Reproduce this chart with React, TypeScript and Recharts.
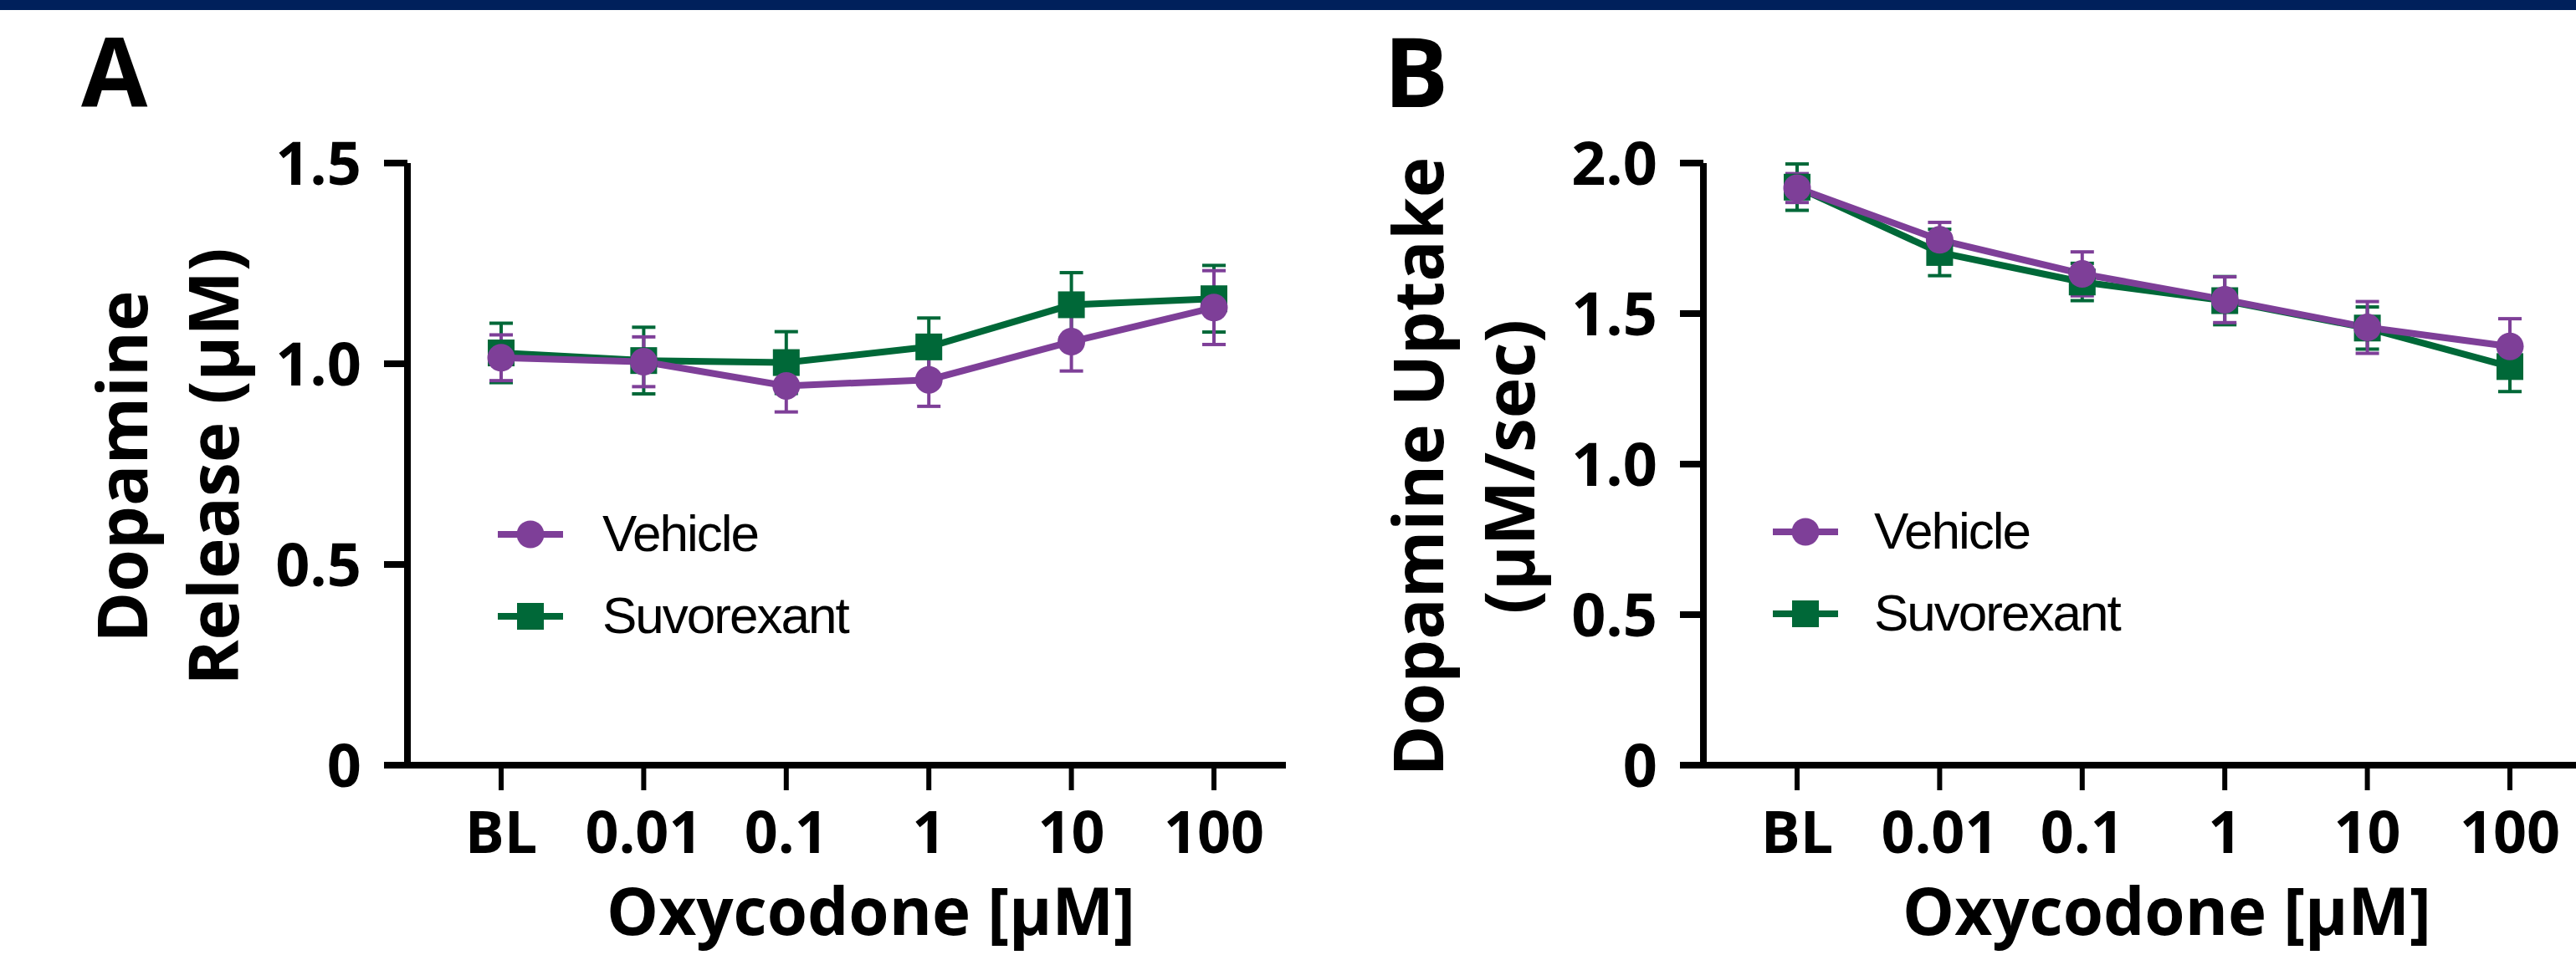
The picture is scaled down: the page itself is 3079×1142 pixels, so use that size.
import { ErrorBar, Legend, Line, LineChart, XAxis, YAxis } from "recharts";

const NAVY = "#00205b";
const PURPLE = "#7e3f98";
const GREEN = "#006838";
const BOLD_FONT = "'Open Sans', 'DejaVu Sans', sans-serif";
const LEGEND_FONT = "'Liberation Sans', Arial, sans-serif";

// oxycodone concentrations (µM), BL = baseline
const doses = ["BL", "0.01", "0.1", "1", "10", "100"];
const seriesNames = ["Vehicle", "Suvorexant"];

// panel A: dopamine release (µM), mean and SEM
const releaseVehicle = [1.015, 1.005, 0.945, 0.96, 1.055, 1.14];
const releaseVehicleSem = [0.057, 0.062, 0.065, 0.066, 0.073, 0.092];
const releaseSuvorexant = [1.027, 1.008, 1.003, 1.042, 1.147, 1.162];
const releaseSuvorexantSem = [0.074, 0.083, 0.077, 0.072, 0.08, 0.083];
const releaseTicks = [0, 0.5, 1, 1.5];

// panel B: dopamine uptake (µM/sec), mean and SEM
const uptakeVehicle = [1.917, 1.745, 1.632, 1.546, 1.454, 1.391];
const uptakeVehicleSem = [0.048, 0.058, 0.073, 0.076, 0.086, 0.092];
const uptakeSuvorexant = [1.92, 1.703, 1.605, 1.543, 1.452, 1.324];
const uptakeSuvorexantSem = [0.077, 0.077, 0.062, 0.08, 0.07, 0.083];
const uptakeTicks = [0, 0.5, 1, 1.5, 2];

function buildRows(veh: number[], vehSem: number[], suv: number[], suvSem: number[]) {
  return doses.map((dose, i) => ({
    dose,
    vehicle: veh[i],
    vehicleSem: vehSem[i],
    suvorexant: suv[i],
    suvorexantSem: suvSem[i],
  }));
}

const releaseRows = buildRows(releaseVehicle, releaseVehicleSem, releaseSuvorexant, releaseSuvorexantSem);
const uptakeRows = buildRows(uptakeVehicle, uptakeVehicleSem, uptakeSuvorexant, uptakeSuvorexantSem);

const fmtTick = (v: number) => (v === 0 ? "0" : v.toFixed(1));

const SquareDot = (props: any) => {
  const { cx, cy, index } = props;
  if (cx == null || cy == null) return null;
  return <rect key={`sq-${index}`} x={cx - 16} y={cy - 16} width={32} height={32} fill={GREEN} />;
};

function makeLegend(textX: number) {
  return (props: any) => {
    const payload = props.payload ?? [];
    const ordered = seriesNames
      .map((n) => payload.find((p: any) => p.value === n))
      .filter(Boolean);
    return (
      <svg width={460} height={170} style={{ display: "block" }}>
        {ordered.map((entry: any, i: number) => {
          const cy = 35 + i * 98;
          return (
            <g key={entry.value}>
              <line x1={0} x2={78} y1={cy} y2={cy} stroke={entry.color} strokeWidth={8} />
              {entry.value === "Vehicle" ? (
                <circle cx={39} cy={cy} r={16.5} fill={entry.color} />
              ) : (
                <rect x={23} y={cy - 16} width={32} height={32} fill={entry.color} />
              )}
              <text
                x={textX}
                y={cy + 20}
                fontFamily={LEGEND_FONT}
                fontSize={62}
                letterSpacing={-2}
                fill="#000"
              >
                {entry.value}
              </text>
            </g>
          );
        })}
      </svg>
    );
  };
}

type PanelProps = {
  left: number;
  width: number;
  axisWidth: number;
  rightMargin: number;
  padLeft: number;
  padRight: number;
  data: ReturnType<typeof buildRows>;
  ticks: number[];
  yLines: string[];
  legendLeft: number;
  legendTop: number;
  legendTextX: number;
};

function Panel(p: PanelProps) {
  const yTickStyle = { fill: "#000", fontSize: 72, fontFamily: BOLD_FONT, fontWeight: 700 };
  const xTickStyle = { fill: "#000", fontSize: 70, fontFamily: BOLD_FONT, fontWeight: 700 };

  const yTitle = (props: any) => {
    const vb = props.viewBox ?? { x: 0, y: 195, width: p.axisWidth, height: 720 };
    const bx = vb.x + vb.width - 311;
    const cy = vb.y + vb.height / 2 + 3;
    return (
      <text
        x={bx}
        y={cy}
        transform={`rotate(-90, ${bx}, ${cy})`}
        textAnchor="middle"
        fontFamily={BOLD_FONT}
        fontWeight={700}
        fontSize={82}
        fill="#000"
      >
        {p.yLines.map((line, i) => (
          <tspan key={line} x={bx} dy={i === 0 ? 0 : 109}>
            {line}
          </tspan>
        ))}
      </text>
    );
  };

  const xTitle = (props: any) => {
    const vb = props.viewBox ?? { x: p.axisWidth, y: 915, width: 1050, height: 227 };
    const cx = vb.x + p.padLeft + (vb.width - p.padLeft - p.padRight) / 2 + 16;
    return (
      <text
        x={cx}
        y={vb.y + 203}
        textAnchor="middle"
        fontFamily={BOLD_FONT}
        fontWeight={700}
        fontSize={78}
        fill="#000"
      >
        Oxycodone [µM]
      </text>
    );
  };

  return (
    <div style={{ position: "absolute", left: p.left, top: 0, width: p.width, height: 1142 }}>
      <LineChart
        width={p.width}
        height={1142}
        data={p.data}
        margin={{ top: 195, right: p.rightMargin, bottom: 0, left: 0 }}
      >
        <XAxis
          dataKey="dose"
          height={227}
          interval={0}
          padding={{ left: p.padLeft, right: p.padRight }}
          tickSize={30}
          tickMargin={25}
          stroke="#000"
          axisLine={{ stroke: "#000", strokeWidth: 8 }}
          tickLine={{ stroke: "#000", strokeWidth: 6 }}
          tick={xTickStyle}
          label={{ content: xTitle }}
        />
        <YAxis
          width={p.axisWidth}
          domain={[p.ticks[0], p.ticks[p.ticks.length - 1]]}
          ticks={p.ticks}
          tickFormatter={fmtTick}
          tickSize={28}
          tickMargin={27}
          stroke="#000"
          axisLine={{ stroke: "#000", strokeWidth: 8 }}
          tickLine={{ stroke: "#000", strokeWidth: 8 }}
          tick={yTickStyle}
          label={{ content: yTitle }}
        />
        <Legend
          layout="vertical"
          align="center"
          verticalAlign="middle"
          content={makeLegend(p.legendTextX)}
          wrapperStyle={{ position: "absolute", left: p.legendLeft, top: p.legendTop, width: 460, height: 170 }}
        />
        <Line
          name="Suvorexant"
          dataKey="suvorexant"
          stroke={GREEN}
          strokeWidth={8}
          dot={SquareDot}
          activeDot={false}
          isAnimationActive={false}
        >
          <ErrorBar dataKey="suvorexantSem" width={14} strokeWidth={4} stroke={GREEN} direction="y" />
        </Line>
        <Line
          name="Vehicle"
          dataKey="vehicle"
          stroke={PURPLE}
          strokeWidth={8}
          dot={{ r: 16.5, fill: PURPLE, stroke: "none" }}
          activeDot={false}
          isAnimationActive={false}
        >
          <ErrorBar dataKey="vehicleSem" width={14} strokeWidth={4} stroke={PURPLE} direction="y" />
        </Line>
      </LineChart>
    </div>
  );
}

export default function App() {
  return (
    <div
      style={{
        position: "absolute",
        left: 0,
        top: 0,
        width: 3079,
        height: 1142,
        background: "#fff",
        overflow: "hidden",
      }}
    >
      <svg width={3079} height={1142} style={{ position: "absolute", left: 0, top: 0 }}>
        <rect x={0} y={0} width={3079} height={12} fill={NAVY} />
        <text x={97} y={128} fontFamily={BOLD_FONT} fontWeight={700} fontSize={115} fill="#000">
          A
        </text>
        <text x={1654} y={128} fontFamily={BOLD_FONT} fontWeight={700} fontSize={115} fill="#000">
          B
        </text>
      </svg>
      <Panel
        left={0}
        width={1540}
        axisWidth={487}
        rightMargin={3}
        padLeft={112}
        padRight={86}
        data={releaseRows}
        ticks={releaseTicks}
        yLines={["Dopamine", "Release (µM)"]}
        legendLeft={595}
        legendTop={604}
        legendTextX={125}
      />
      <Panel
        left={1540}
        width={1539}
        axisWidth={496}
        rightMargin={0}
        padLeft={112}
        padRight={79}
        data={uptakeRows}
        ticks={uptakeTicks}
        yLines={["Dopamine Uptake", "(µM/sec)"]}
        legendLeft={579}
        legendTop={601}
        legendTextX={121}
      />
    </div>
  );
}
